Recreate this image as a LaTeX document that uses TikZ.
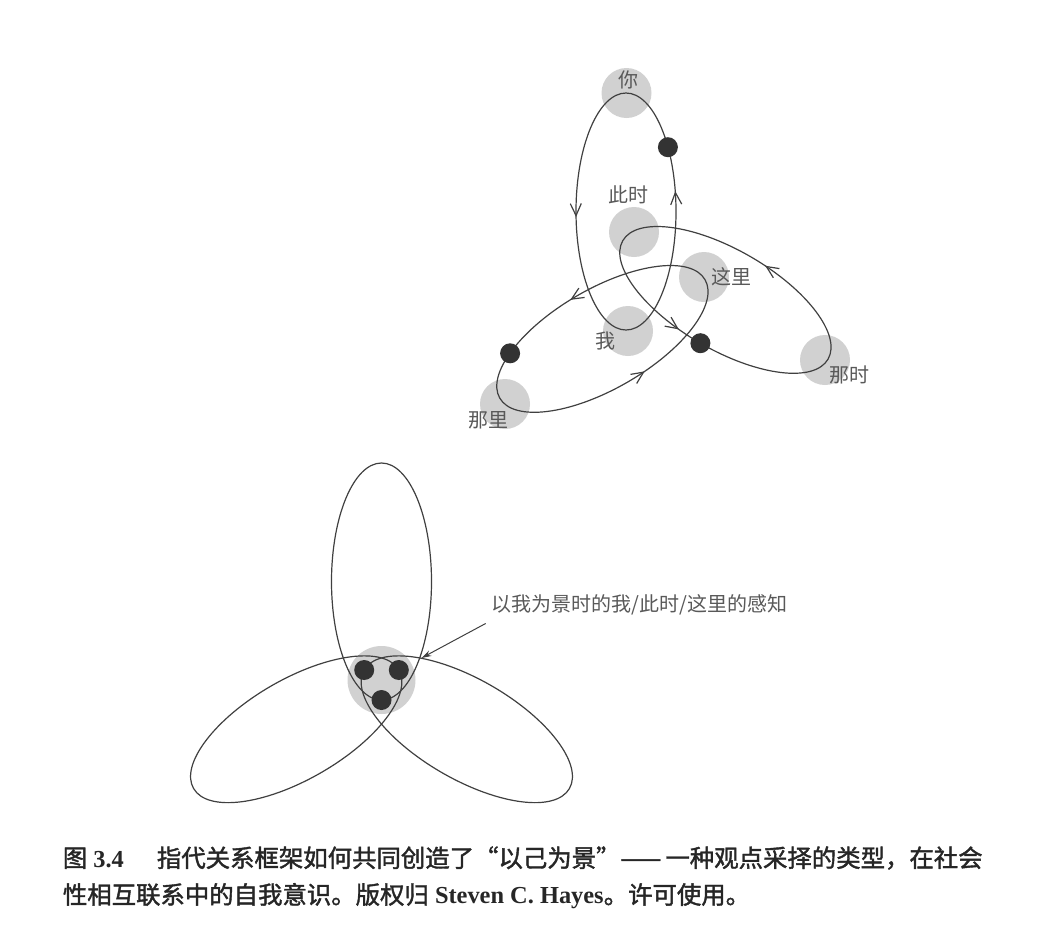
\documentclass[tikz,border=0pt]{standalone}
\usepackage{fontspec}
\setmainfont{Liberation Serif}
\newfontfamily\cjk{Noto Sans CJK SC}
\newfontfamily\cjkcap[FakeBold=1.6]{Noto Sans CJK SC}
\usetikzlibrary{positioning}
\usetikzlibrary{arrows.meta}
\usetikzlibrary{decorations.markings}

\tikzset{flow/.style 2 args={postaction={decorate}, decoration={markings,
    mark=at position #1 with {\arrow{Straight Barb[length=12pt, width=11pt]}},
    mark=at position #2 with {\arrow{Straight Barb[length=12pt, width=11pt]}}}}}

\begin{document}
\begin{tikzpicture}[x=1pt, y=1pt]
            \tikzstyle{place}=[circle, fill=black!18, minimum size=50pt, inner sep=0pt];
            \tikzstyle{dot}=[circle, fill=black!80, minimum size=20pt, inner sep=0pt];
            \tikzstyle{ring}=[draw=black!75, line width=1.2pt];
            \tikzstyle{word}=[font=\cjk\fontsize{20}{24}\selectfont, text=black!65, inner sep=0pt];
            \tikzstyle{caption}=[font=\bfseries\fontsize{24.4}{28}\selectfont, text=black!85, inner sep=0pt];

            \useasboundingbox (0,0) rectangle (1041,-924);

            % Places of the top figure
            \node(you) [place] at (626.5,-93) {};
            \node(now) [place] at (634,-232) {};
            \node(here) [place] at (704,-277) {};
            \node(me) [place] at (628,-331) {};
            \node(there) [place] at (505,-404) {};
            \node(then) [place] at (825,-360) {};

            % Relational frames
            \draw[ring, flow={0.26}{0.787}] (626,-211.5) ellipse [x radius=118.5, y radius=50, rotate=90];
            \draw[ring, flow={0.2185}{0.7036}] (725.4,-299.9) ellipse [x radius=118.5, y radius=50, rotate=-30];
            \draw[ring, flow={0.265}{0.787}] (602.4,-338.9) ellipse [x radius=118.5, y radius=50, rotate=30];

            \node(dot_you) [dot] at (667.9,-147.2) {};
            \node(dot_then) [dot] at (700.4,-343.2) {};
            \node(dot_there) [dot] at (510.1,-353.3) {};

            \node(you_t) [word] at (628,-80) {你};
            \node(now_t) [word] at (628,-195) {此时};
            \node(here_t) [word] at (731,-277) {这里};
            \node(me_t) [word] at (605,-341) {我};
            \node(there_t) [word] at (488,-420) {那里};
            \node(then_t) [word] at (849,-375) {那时};

            % Self as context
            \node(self_zone) [place, minimum size=68pt] at (381.5,-680) {};
            \draw[ring] (381.5,-581.5) ellipse [x radius=118.5, y radius=50, rotate=90];
            \draw[ring] (296.2,-729.25) ellipse [x radius=118.5, y radius=50, rotate=30];
            \draw[ring] (466.8,-729.25) ellipse [x radius=118.5, y radius=50, rotate=-30];
            \node(self_a) [dot] at (381.5,-700) {};
            \node(self_b) [dot] at (398.8,-670) {};
            \node(self_c) [dot] at (364.2,-670) {};

            \node(percept) [word, anchor=west] at (491.7,-605) {以我为景时的我/此时/这里的感知};
            \coordinate(self_pt) at (421.5,-658);
            \draw[draw=black!75, line width=1pt, -{Stealth[length=10pt, width=6pt]}] ([xshift=-6pt, yshift=-8pt]percept.south west) -- (self_pt);

            % Caption
            \node(cap1) [caption, anchor=west] at (62.7,-858) {{\cjkcap\mdseries 图} 3.4\hspace{33pt}{\cjkcap\mdseries 指代关系框架如何共同创造了“以己为景”——\,一种观点采择的类型，在社会}};
            \node(cap2) [caption, below right = 13pt and 0pt of cap1.south west] {{\cjkcap\mdseries 性相互联系中的自我意识。版权归} Steven C. Hayes{\cjkcap\mdseries 。许可使用。}};
\end{tikzpicture}
\end{document}
